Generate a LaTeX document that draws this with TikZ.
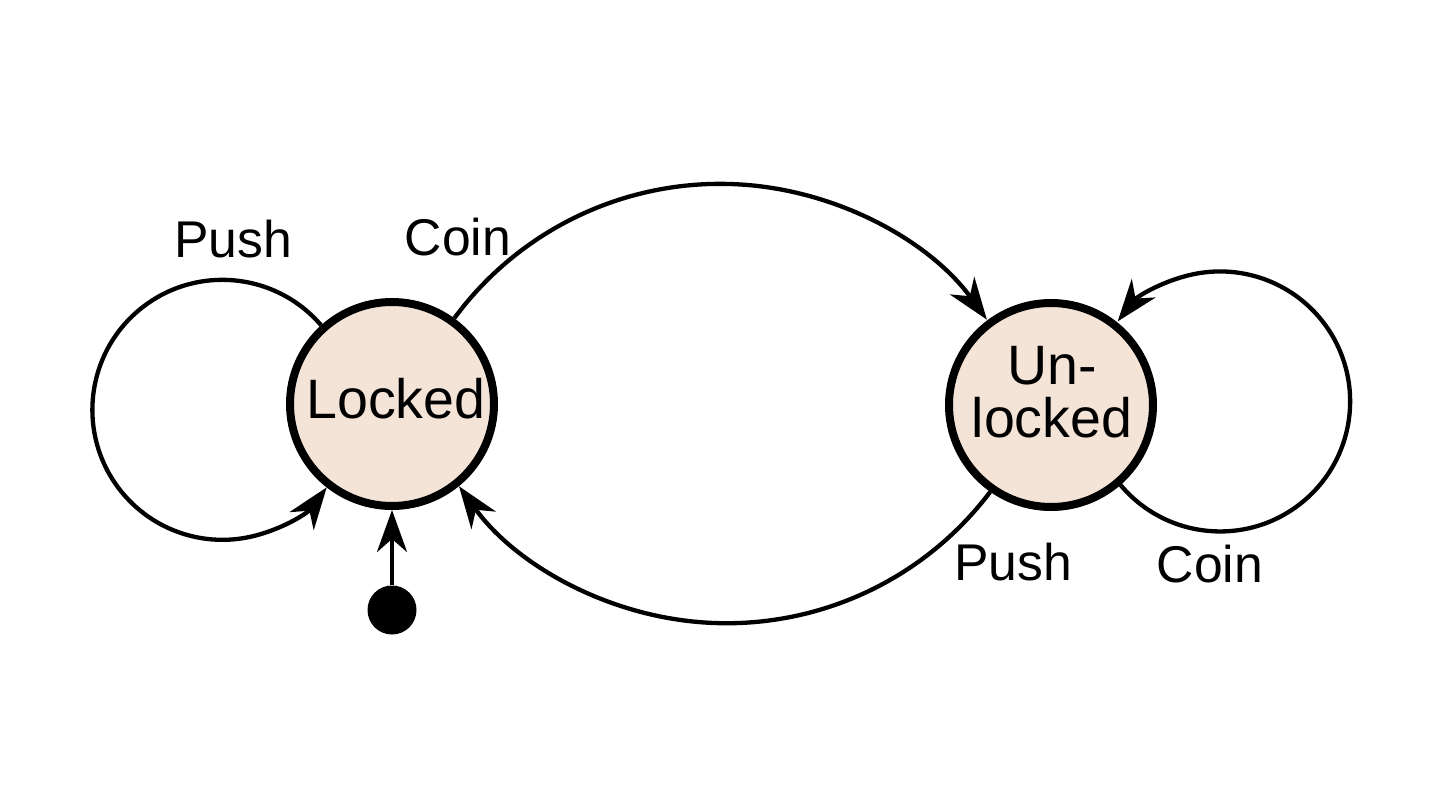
\documentclass[tikz,border=0pt]{standalone}
\usepackage{fontspec}
\setmainfont{Liberation Sans}
\usetikzlibrary{arrows.meta}
\definecolor{statefill}{HTML}{F4E3D7}
\begin{document}
\begin{tikzpicture}[
  state/.style={circle, draw=black, fill=statefill, line width=0.08cm,
                minimum size=2.04cm, inner sep=0pt},
  statetext/.style={font=\fontsize{15.8pt}{14.8pt}\selectfont, inner sep=0pt},
  edgelabel/.style={font=\fontsize{14.7pt}{15pt}\selectfont, inner sep=0pt, anchor=base},
  arr/.style={line width=0.043cm, -{Stealth[length=4.2mm, width=3mm, inset=1.3mm]}},
  startdot/.style={circle, fill=black, minimum size=0.49cm, inner sep=0pt}
]
\fill[white] (0,0) rectangle (14.4,8.1);
\useasboundingbox (0,0) rectangle (14.4,8.1);

% states
\node[state] (Locked) at (3.92,4.06) {};
\node[state] (Unlocked) at (10.51,4.05) {};
\node[statetext, anchor=base] (LockedText) at ([xshift=0.04cm, yshift=-0.14cm]Locked.center) {Locked};
\node[statetext, anchor=base, align=center] (UnlockedText) at ([xshift=0.01cm, yshift=-0.32cm]Unlocked.center) {Un-\\locked};

% initial pseudo-state
\node[startdot] (Init) at (3.92,2.00) {};
\draw[arr] (Init) -- (Locked);

% transitions between the two states
\draw[arr] (Locked.54) arc[start angle=143.65, end angle=36.05, radius=3.3];
\draw[arr] (Unlocked.235) arc[start angle=323.0, end angle=215.8, radius=3.3];

% self loops
\draw[arr] (Locked.132) arc[start angle=40.6, end angle=323.4, radius=1.3];
\draw[arr] (Unlocked.311) arc[start angle=220, end angle=502, radius=1.3];

% transition labels
\node[edgelabel] (PushL) at (2.33,5.53) {Push};
\node[edgelabel] (CoinT) at (4.58,5.55) {Coin};
\node[edgelabel] (PushB) at (10.13,2.30) {Push};
\node[edgelabel] (CoinR) at (12.10,2.28) {Coin};
\end{tikzpicture}
\end{document}
